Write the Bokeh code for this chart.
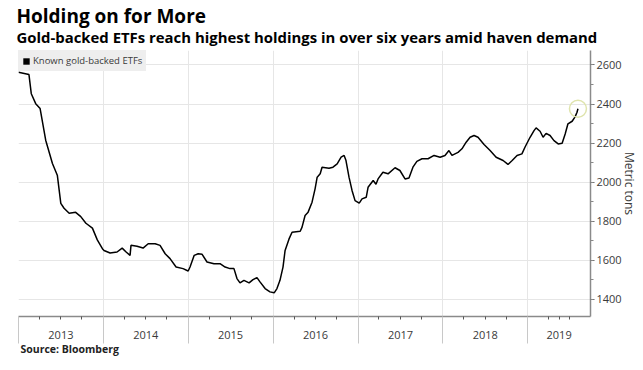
import pandas as pd
from bokeh.plotting import figure
from bokeh.models import (FixedTicker, Legend, LegendItem, ColumnDataSource, Title)
from bokeh.embed import file_html
from bokeh.resources import INLINE

# ---- data ----
dates = [
    "2013-01-01", "2013-02-15", "2013-02-25", "2013-03-16", "2013-04-04", "2013-04-28",
    "2013-05-27", "2013-06-17", "2013-07-02", "2013-07-16", "2013-08-07", "2013-09-04",
    "2013-09-26", "2013-10-18", "2013-11-15", "2013-12-06", "2013-12-28", "2014-01-04",
    "2014-01-30", "2014-03-01", "2014-03-23", "2014-04-09", "2014-04-26", "2014-04-30",
    "2014-05-26", "2014-06-21", "2014-07-13", "2014-08-12", "2014-09-02", "2014-09-24",
    "2014-10-15", "2014-11-10", "2014-12-10", "2015-01-01", "2015-01-09", "2015-01-27",
    "2015-02-13", "2015-03-02", "2015-03-23", "2015-04-22", "2015-05-18", "2015-06-09",
    "2015-06-30", "2015-07-17", "2015-07-30", "2015-08-12", "2015-08-29", "2015-09-20",
    "2015-10-07", "2015-10-24", "2015-11-06", "2015-11-28", "2015-12-19", "2016-01-06",
    "2016-01-18", "2016-01-31", "2016-02-13", "2016-02-22", "2016-03-10", "2016-03-23",
    "2016-04-27", "2016-05-05", "2016-05-18", "2016-05-31", "2016-06-17", "2016-06-30",
    "2016-07-09", "2016-07-22", "2016-07-30", "2016-08-29", "2016-09-15", "2016-10-03",
    "2016-10-20", "2016-11-02", "2016-11-10", "2016-11-23", "2016-12-06", "2016-12-19",
    "2017-01-06", "2017-01-18", "2017-02-05", "2017-02-13", "2017-03-07", "2017-03-19",
    "2017-03-28", "2017-04-18", "2017-05-10", "2017-06-09", "2017-06-30", "2017-07-22",
    "2017-08-08", "2017-08-25", "2017-09-11", "2017-10-03", "2017-10-29", "2017-11-24",
    "2017-12-20", "2018-01-10", "2018-01-27", "2018-02-09", "2018-03-07", "2018-03-24",
    "2018-04-11", "2018-04-28", "2018-05-15", "2018-06-01", "2018-06-27", "2018-07-23",
    "2018-08-18", "2018-09-17", "2018-10-08", "2018-10-26", "2018-11-16", "2018-12-07",
    "2018-12-20", "2019-01-11", "2019-01-28", "2019-02-06", "2019-02-23", "2019-03-08",
    "2019-03-21", "2019-04-07", "2019-04-24", "2019-05-12", "2019-05-29", "2019-06-11",
    "2019-06-23", "2019-07-11", "2019-07-23", "2019-08-01", "2019-08-05",
]
holdings = [
    2563, 2551, 2453, 2402, 2377, 2215,
    2096, 2036, 1892, 1867, 1841, 1846,
    1824, 1790, 1765, 1705, 1660, 1651,
    1638, 1643, 1663, 1643, 1626, 1677,
    1672, 1663, 1685, 1685, 1677, 1634,
    1609, 1566, 1558, 1546, 1566, 1626,
    1634, 1631, 1592, 1583, 1583, 1566,
    1558, 1558, 1507, 1485, 1498, 1485,
    1502, 1512, 1490, 1456, 1439, 1434,
    1456, 1498, 1566, 1651, 1710, 1744,
    1749, 1770, 1830, 1847, 1898, 1966,
    2026, 2043, 2077, 2072, 2077, 2094,
    2128, 2137, 2111, 2026, 1958, 1906,
    1893, 1915, 1923, 1974, 2009, 1990,
    2017, 2051, 2043, 2074, 2060, 2017,
    2022, 2077, 2107, 2120, 2120, 2137,
    2128, 2137, 2162, 2137, 2153, 2171,
    2205, 2230, 2239, 2230, 2193, 2162,
    2128, 2111, 2091, 2111, 2137, 2145,
    2179, 2230, 2264, 2278, 2261, 2230,
    2250, 2239, 2213, 2196, 2199, 2247,
    2299, 2312, 2333, 2358, 2376,
]
year_labels = ["2013", "2014", "2015", "2016", "2017", "2018", "2019"]
y_ticks = [1400, 1600, 1800, 2000, 2200, 2400, 2600]
y_minor = [1400, 1500, 1600, 1700, 1800, 1900, 2000, 2100, 2200, 2300, 2400, 2500, 2600]
series_name = "Known gold-backed ETFs"
title_text = "Holding on for More"
subtitle_text = "Gold-backed ETFs reach highest holdings in over six years amid haven demand"
source_text = "Source: Bloomberg"
x_start = "2013-01-01"
x_end = "2019-09-28"
y_lo, y_hi = 1313, 2674

FONT = "Open Sans"
TXT = "#3a3a3a"

def ms(ts):
    return int(pd.Timestamp(ts).value // 10**6)

xs = pd.to_datetime(dates)
src = ColumnDataSource(dict(x=xs, y=holdings))

p = figure(width=640, height=368, x_axis_type="datetime", y_axis_location="right",
           x_range=(pd.Timestamp(x_start), pd.Timestamp(x_end)), y_range=(y_lo, y_hi),
           output_backend="svg", toolbar_location=None, title=None,
           min_border_left=18, min_border_top=50, min_border_bottom=52, min_border_right=0)
p.outline_line_color = None

# x axis: year labels centred in each visible year; quarter ticks short; year boundaries long
year_starts = [ms(f"{y}-01-01") for y in year_labels]
end_ms = ms(x_end)
label_pos = []
for i in range(len(year_labels)):
    a = year_starts[i]
    b = year_starts[i + 1] if i + 1 < len(year_starts) else end_ms
    label_pos.append((a + b) // 2)
quarter_ticks = [ms(f"{y}-{m:02d}-01") for y in year_labels for m in (4, 7, 10)
                 if ms(f"{y}-{m:02d}-01") <= end_ms]
quarter_ticks = [q for q in quarter_ticks if min(abs(q - lp) for lp in label_pos) > 5 * 86400000]
major = sorted(quarter_ticks + label_pos)
p.xaxis.ticker = FixedTicker(ticks=major, minor_ticks=year_starts)
overrides = {t: "" for t in major}
for lp, lab in zip(label_pos, year_labels):
    overrides[lp] = lab
p.xaxis.major_label_overrides = overrides
p.xaxis.major_tick_out = 3
p.xaxis.major_tick_in = 0
p.xaxis.major_tick_line_color = "#555555"
p.xaxis.minor_tick_out = 27
p.xaxis.minor_tick_in = 0
p.xaxis.minor_tick_line_color = "#c8c8c8"
p.xaxis.axis_line_color = "#8a8a8a"
p.xaxis.axis_line_width = 1.5
p.xaxis.major_label_text_font = FONT
p.xaxis.major_label_text_font_size = "11px"
p.xaxis.major_label_text_color = TXT
p.xaxis.major_label_standoff = -13
p.xgrid.ticker = FixedTicker(ticks=year_starts)

# y axis on the right
p.yaxis.ticker = FixedTicker(ticks=y_ticks, minor_ticks=y_minor)
p.yaxis.major_tick_out = 4
p.yaxis.major_tick_in = 0
p.yaxis.minor_tick_out = 3
p.yaxis.minor_tick_in = 0
p.yaxis.major_tick_line_color = "#666666"
p.yaxis.minor_tick_line_color = "#888888"
p.yaxis.axis_line_color = "#8a8a8a"
p.yaxis.axis_line_width = 1.5
p.yaxis.major_label_text_font = FONT
p.yaxis.major_label_text_font_size = "11px"
p.yaxis.major_label_text_color = TXT
p.yaxis.major_label_standoff = 2
p.yaxis.axis_label = "Metric tons"
p.yaxis.axis_label_text_font = FONT
p.yaxis.axis_label_text_font_size = "12px"
p.yaxis.axis_label_text_font_style = "normal"
p.yaxis.axis_label_text_color = TXT
p.yaxis.axis_label_standoff = -4

p.xgrid.grid_line_color = "#e6e6e6"
p.ygrid.grid_line_color = "#e6e6e6"

# the series
p.line("x", "y", source=src, line_color="black", line_width=1.5)

# highlight circle on the latest value
p.scatter(x=[xs[-1]], y=[holdings[-1]], size=17, fill_alpha=0,
          line_color="#dfe4ad", line_width=1.5)

# legend with a square swatch (zero-area quad, so nothing shows in the plot itself)
sw = p.quad(left=[xs[-1]], right=[xs[-1]], top=[holdings[-1]], bottom=[holdings[-1]],
            fill_color="black", line_color=None)
leg = Legend(items=[LegendItem(label=series_name, renderers=[sw])],
             location="top_left", margin=0, padding=4, spacing=0,
             glyph_width=8, glyph_height=8, label_standoff=3,
             label_text_font=FONT, label_text_font_size="9.5px", label_height=10,
             label_text_color=TXT, background_fill_color="#eeeeee",
             background_fill_alpha=1, border_line_alpha=0)
p.add_layout(leg)

# titles (inner first) and source
p.add_layout(Title(text=subtitle_text, align="left", offset=-2, standoff=8,
                   text_font=FONT, text_font_size="14.9px", text_font_style="bold",
                   text_color="black"), "above")
p.add_layout(Title(text=title_text, align="left", offset=-2, standoff=-17,
                   padding=dict(left=0, right=0, top=6, bottom=0),
                   text_font=FONT, text_font_size="19px", text_font_style="bold",
                   text_color="black"), "above")
p.add_layout(Title(text=source_text, align="left", offset=2, standoff=-3,
                   text_font=FONT, text_font_size="10.5px", text_font_style="bold",
                   text_color="#222222"), "below")

open("out.html", "w").write(file_html(p, INLINE))
